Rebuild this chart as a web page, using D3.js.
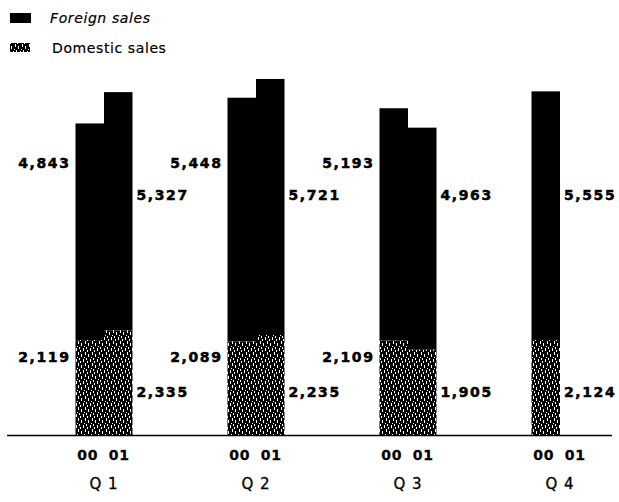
<!DOCTYPE html>
<html>
<head>
<meta charset="utf-8">
<script src="https://cdn.jsdelivr.net/npm/d3@7"></script>
<style>
  html, body { margin: 0; padding: 0; background: #fff; }
  svg { display: block; }
  .val { font-family: "DejaVu Sans", sans-serif; font-weight: bold; font-size: 14px; letter-spacing: 1.6px; fill: #000; stroke: #000; stroke-width: 0.5px; }
  .yr  { font-family: "DejaVu Sans", sans-serif; font-weight: bold; font-size: 14px; letter-spacing: 0.8px; fill: #000; stroke: #000; stroke-width: 0.3px; }
  .qt  { font-family: "DejaVu Sans", sans-serif; font-size: 15px; letter-spacing: 1px; fill: #000; stroke: #000; stroke-width: 0.3px; }
  .leg { font-family: "DejaVu Sans", sans-serif; font-size: 14px; letter-spacing: 0.6px; fill: #000; stroke: #000; stroke-width: 0.2px; }
</style>
</head>
<body>
<script>
// Quarterly sales, fiscal 2000 vs 2001 (Q4 2001 not yet reported)
const quarters = ["Q 1", "Q 2", "Q 3", "Q 4"];
const years = ["00", "01"];
const foreign00 = [4843, 5448, 5193, 5555];
const foreign01 = [5327, 5721, 4963, null];
const domestic00 = [2119, 2089, 2109, 2124];
const domestic01 = [2335, 2235, 1905, null];
const legendLabels = ["Foreign sales", "Domestic sales"];

const W = 619, H = 502;
const baseY = 435;
const barW = 28.5;

const rows = [];
quarters.forEach((q, i) => {
  const only = domestic01[i] == null;
  years.forEach((yr, j) => {
    const dom = j === 0 ? domestic00[i] : domestic01[i];
    const fgn = j === 0 ? foreign00[i] : foreign01[i];
    if (dom == null) return;
    rows.push({ q, yr, j, dom, fgn, side: (j === 1 || only) ? "right" : "left" });
  });
});

const svg = d3.select("body").append("svg").attr("width", W).attr("height", H);

// stipple texture for domestic sales: dark ground with short vertical white flecks
const defs = svg.append("defs");
const pat = defs.append("pattern")
  .attr("id", "stipple").attr("patternUnits", "userSpaceOnUse")
  .attr("width", 7).attr("height", 11);
pat.append("rect").attr("width", 7).attr("height", 11).attr("fill", "#000");
[[1,0,1,3],[4,2,1,3],[2,6,1,2],[6,7,1,3],[0,5,1,1],[3,9,1,2]].forEach(([x,y,w,h]) =>
  pat.append("rect").attr("x", x).attr("y", y).attr("width", w).attr("height", h).attr("fill", "#fff"));

const x0 = d3.scalePoint().domain(quarters).range([104, 560]);
const x1 = d3.scaleBand().domain(years).range([-barW, barW]).padding(0);
const y = d3.scaleLinear().domain([0, 8000]).range([baseY, 77]);
const fmt = d3.format(",");

// baseline
svg.append("line").attr("x1", 7).attr("x2", 612).attr("y1", baseY + 0.5).attr("y2", baseY + 0.5)
  .attr("stroke", "#000").attr("stroke-width", 1.5);

const g = svg.append("g");
const bx = d => x0(d.q) + x1(d.yr);

// foreign (top, solid black)
g.selectAll("rect.fgn").data(rows).join("rect").attr("class", "fgn")
  .attr("x", bx).attr("width", x1.bandwidth())
  .attr("y", d => y(d.dom + d.fgn)).attr("height", d => y(d.dom) - y(d.dom + d.fgn))
  .attr("fill", "#000");

// domestic (bottom, stippled)
g.selectAll("rect.dom").data(rows).join("rect").attr("class", "dom")
  .attr("x", bx).attr("width", x1.bandwidth())
  .attr("y", d => y(d.dom)).attr("height", d => baseY - y(d.dom))
  .attr("fill", "url(#stipple)");

// value labels beside the bars
const labelY = { left: { fgn: 168, dom: 362 }, right: { fgn: 200, dom: 397 } };
const lx = d => d.side === "left" ? bx(d) - 5 : bx(d) + x1.bandwidth() + 4;
const anchor = d => d.side === "left" ? "end" : "start";
g.selectAll("text.vf").data(rows).join("text").attr("class", "val")
  .attr("x", lx).attr("y", d => labelY[d.side].fgn).attr("text-anchor", anchor)
  .text(d => fmt(d.fgn));
g.selectAll("text.vd").data(rows).join("text").attr("class", "val")
  .attr("x", lx).attr("y", d => labelY[d.side].dom).attr("text-anchor", anchor)
  .text(d => fmt(d.dom));

// year and quarter labels
quarters.forEach(q => {
  years.forEach((yr, j) => {
    svg.append("text").attr("class", "yr")
      .attr("x", x0(q) + x1(yr) + x1.bandwidth() / 2 + (j === 0 ? -2 : 1)).attr("y", 460)
      .attr("text-anchor", "middle").text(yr);
  });
  svg.append("text").attr("class", "qt")
    .attr("x", x0(q)).attr("y", 489).attr("text-anchor", "middle").text(q);
});

// legend
const leg = svg.append("g");
leg.append("rect").attr("x", 10).attr("y", 13).attr("width", 21).attr("height", 10).attr("fill", "#000");
leg.append("rect").attr("x", 10).attr("y", 43).attr("width", 20).attr("height", 9).attr("fill", "url(#stipple)");
leg.selectAll("text").data(legendLabels).join("text").attr("class", "leg")
  .attr("x", (d, i) => i === 0 ? 50 : 52).attr("y", (d, i) => 23 + i * 30)
  .attr("font-style", (d, i) => i === 0 ? "italic" : "normal").text(d => d);
</script>
</body>
</html>
